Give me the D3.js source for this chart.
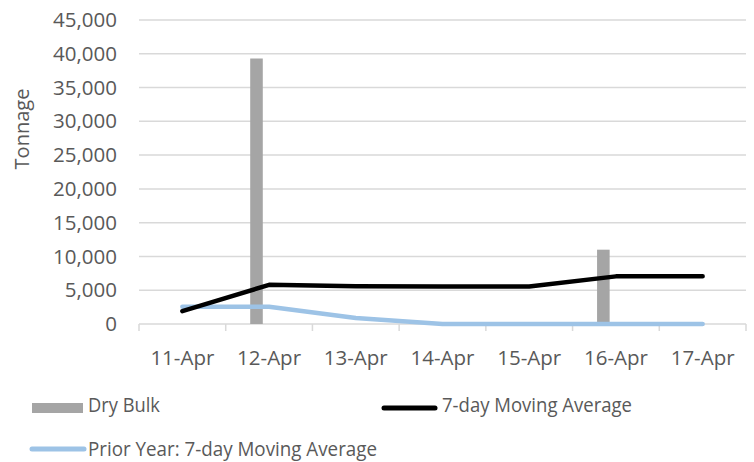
<!DOCTYPE html>
<html>
<head>
<meta charset="utf-8">
<script src="https://cdn.jsdelivr.net/npm/d3@7"></script>
<style>
  html, body { margin: 0; padding: 0; background: #fff; }
  svg { display: block; font-family: "Open Sans", sans-serif; }
</style>
</head>
<body>
<svg id="chart" width="754" height="462"></svg>
<script>
// Daily dry bulk tonnage with moving averages
const categories = ["11-Apr", "12-Apr", "13-Apr", "14-Apr", "15-Apr", "16-Apr", "17-Apr"];
const dryBulk = [0, 39300, 0, 0, 0, 11000, 0];
const movingAvg = [1900, 5800, 5600, 5550, 5550, 7050, 7050];
const priorYearAvg = [2550, 2550, 900, 0, 0, 0, 0];
const yTicks = [0, 5000, 10000, 15000, 20000, 25000, 30000, 35000, 40000, 45000];

const svg = d3.select("#chart");
const margin = { left: 139, right: 8, top: 20, bottom: 138 };
const width = 754, height = 462;

const x = d3.scaleBand().domain(categories).range([margin.left, width - margin.right]);
const y = d3.scaleLinear().domain([0, 45000]).range([height - margin.bottom, margin.top]);

const fmt = d3.format(",");
const gridColor = "#d9d9d9";
const textColor = "#595959";

// Horizontal gridlines
svg.append("g")
  .selectAll("line")
  .data(yTicks.filter(d => d > 0))
  .join("line")
  .attr("x1", margin.left)
  .attr("x2", width - margin.right)
  .attr("y1", d => y(d))
  .attr("y2", d => y(d))
  .attr("stroke", gridColor)
  .attr("stroke-width", 1.5);

// Y axis labels
const yAxis = svg.append("g")
  .attr("transform", `translate(${margin.left},0)`)
  .call(d3.axisLeft(y).tickValues(yTicks).tickFormat(fmt).tickSize(0).tickPadding(22));
yAxis.select(".domain").remove();
yAxis.selectAll("text")
  .attr("fill", textColor)
  .attr("font-size", 20.5)
  .attr("font-family", "Open Sans, sans-serif");

// X axis with category separators
const xAxisG = svg.append("g").attr("transform", `translate(0,${y(0)})`);
xAxisG.append("line")
  .attr("x1", margin.left).attr("x2", width - margin.right)
  .attr("stroke", gridColor).attr("stroke-width", 1.5);
const boundaries = categories.map(c => x(c)).concat([x(categories[categories.length - 1]) + x.bandwidth()]);
xAxisG.selectAll("line.sep")
  .data(boundaries)
  .join("line")
  .attr("class", "sep")
  .attr("x1", d => d).attr("x2", d => d)
  .attr("y1", 0).attr("y2", 7)
  .attr("stroke", gridColor).attr("stroke-width", 1.5);
xAxisG.selectAll("text")
  .data(categories)
  .join("text")
  .attr("x", d => x(d) + x.bandwidth() / 2)
  .attr("y", 41)
  .attr("text-anchor", "middle")
  .attr("fill", textColor)
  .attr("font-size", 20.5)
  .text(d => d);

// Y axis title
svg.append("text")
  .attr("transform", `translate(29,129) rotate(-90)`)
  .attr("text-anchor", "middle")
  .attr("fill", textColor)
  .attr("font-size", 20)
  .text("Tonnage");

// Bars (first slot of a three-slot cluster within each category)
const barW = x.bandwidth() * 0.145;
svg.append("g")
  .selectAll("rect")
  .data(categories.map((c, i) => ({ c, v: dryBulk[i] })).filter(d => d.v > 0))
  .join("rect")
  .attr("x", d => x(d.c) + x.bandwidth() / 2 - barW * 1.5)
  .attr("width", barW)
  .attr("y", d => y(d.v))
  .attr("height", d => y(0) - y(d.v))
  .attr("fill", "#a5a5a5");

const line = d3.line()
  .x((d, i) => x(categories[i]) + x.bandwidth() / 2)
  .y(d => y(d));

svg.append("path")
  .datum(priorYearAvg)
  .attr("d", line)
  .attr("fill", "none")
  .attr("stroke", "#9dc3e6")
  .attr("stroke-width", 4.5)
  .attr("stroke-linecap", "round")
  .attr("stroke-linejoin", "round");

svg.append("path")
  .datum(movingAvg)
  .attr("d", line)
  .attr("fill", "none")
  .attr("stroke", "#000")
  .attr("stroke-width", 4.5)
  .attr("stroke-linecap", "round")
  .attr("stroke-linejoin", "round");

// Legend
const legend = svg.append("g").attr("font-size", 19.5).attr("fill", textColor);
legend.append("rect").attr("x", 32).attr("y", 403).attr("width", 51).attr("height", 10).attr("fill", "#a5a5a5");
legend.append("text").attr("x", 88).attr("y", 412).attr("textLength", 72).attr("lengthAdjust", "spacingAndGlyphs").text("Dry Bulk");

legend.append("line").attr("x1", 384).attr("x2", 435).attr("y1", 408).attr("y2", 408)
  .attr("stroke", "#000").attr("stroke-width", 5).attr("stroke-linecap", "round");
legend.append("text").attr("x", 442).attr("y", 412).attr("textLength", 190).attr("lengthAdjust", "spacingAndGlyphs").text("7-day Moving Average");

legend.append("line").attr("x1", 32).attr("x2", 84).attr("y1", 449).attr("y2", 449)
  .attr("stroke", "#9dc3e6").attr("stroke-width", 5).attr("stroke-linecap", "round");
legend.append("text").attr("x", 88).attr("y", 456).attr("textLength", 289).attr("lengthAdjust", "spacingAndGlyphs").text("Prior Year: 7-day Moving Average");
</script>
</body>
</html>
